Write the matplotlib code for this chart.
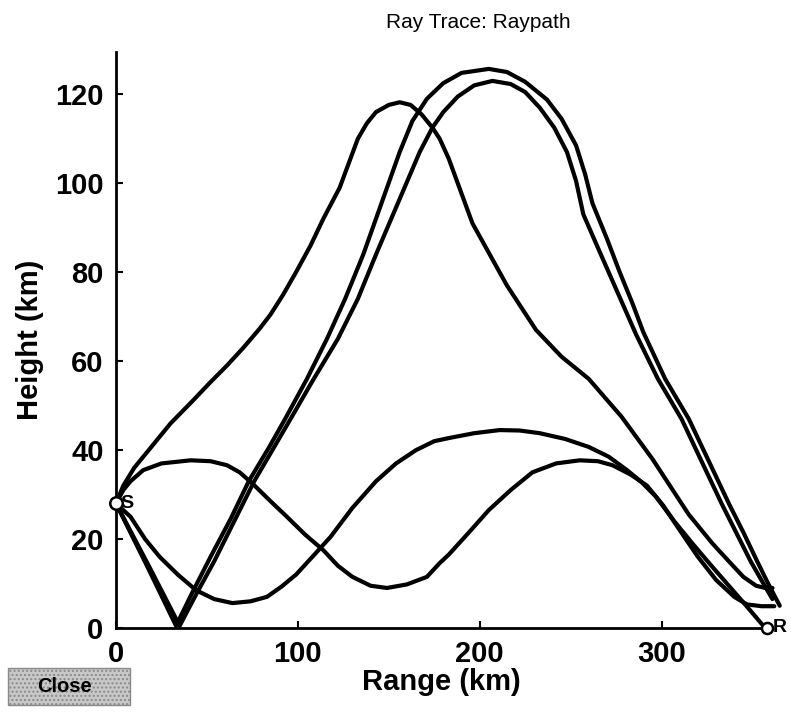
import matplotlib
matplotlib.use("Agg")
import matplotlib.pyplot as plt
from matplotlib.patches import Rectangle

plt.rcParams['font.family'] = ['Liberation Sans', 'DejaVu Sans']

# ---- data (range km, height km) ----
ray_a_x = [0, 4, 10, 20, 30, 42, 52, 61, 70, 79, 85, 92, 99, 107, 114, 123, 133, 138, 143, 150, 156,
           162, 168, 174, 178, 183, 196, 215, 231, 245, 260, 278, 295, 315, 328, 337, 345, 352, 357, 361]
ray_a_y = [28, 32, 36, 41, 46, 51, 55.3, 59, 63, 67.3, 70.5, 75, 80, 86, 92, 99, 110, 113.5, 116, 117.6, 118.2,
           117.6, 115.5, 112.5, 110, 105.5, 91, 77, 67, 61, 56, 47.5, 38, 25.5, 19, 15, 11.5, 9.5, 9, 9]

ray_b_x = [0, 17, 33, 42, 52, 63, 73, 84, 93, 105, 116, 126, 136, 146, 156, 163, 171, 180, 190, 205,
           215, 225, 237, 245, 253, 258, 262, 270, 277, 284, 290, 302, 315, 326, 337, 345, 352, 358, 365]
ray_b_y = [28, 14, 0.5, 8, 16, 24.5, 33, 40.5, 47, 56, 65, 74, 84, 95.5, 107, 114, 119, 122.5, 124.8, 125.7,
           125, 122.8, 118.8, 114.5, 108.5, 102, 95.5, 87.5, 80, 73, 66.5, 56, 47, 37.5, 28, 21.5, 15.5, 10.5, 5]

ray_c_x = [0, 18, 35, 44, 54, 65, 76, 86, 96, 108, 122, 133, 143, 155, 167, 174, 180, 188, 197, 207,
           217, 225, 233, 241, 248, 253, 257, 265, 272, 279, 286, 298, 311, 322, 333, 341, 349, 356, 361]
ray_c_y = [28, 14, 0.5, 7.5, 15, 24, 33, 40, 47, 55.5, 65, 74, 84, 95.5, 107, 112.5, 116, 119.5, 122, 123,
           122.3, 120.5, 117, 112.5, 107, 100.5, 93, 85.5, 79, 72.5, 66, 56, 47, 37.5, 28, 21.5, 15, 10, 6.5]

ray_d_x = [0, 4, 8, 15, 25, 41, 52, 61, 68, 75, 85, 94, 104, 114, 122, 130, 140, 149, 160, 171, 178,
           183, 193, 205, 217, 229, 242, 255, 265, 273, 283, 292, 301, 310, 320, 330, 340, 347, 355, 362]
ray_d_y = [28, 31, 33, 35.5, 37, 37.7, 37.5, 36.6, 35, 32.5, 28.5, 25, 21, 17.5, 14, 11.5, 9.5, 9, 9.8, 11.5, 14.6,
           16.5, 21, 26.5, 31, 35, 37, 37.7, 37.5, 36.6, 34.5, 32, 27.5, 22, 16, 10.8, 7, 5.3, 4.9, 4.9]

ray_e_x = [0, 4, 8, 16, 24, 34, 44, 54, 64, 74, 83, 91, 99, 108, 118, 130, 143, 154, 165, 175, 183,
           197, 211, 222, 233, 247, 260, 271, 281, 289, 297, 307, 317, 327, 337, 347, 357]
ray_e_y = [28, 26.5, 25, 20, 16, 12, 8.5, 6.5, 5.6, 6, 7, 9.3, 12, 16, 20.5, 27, 33, 37, 40, 42, 42.7,
           43.8, 44.5, 44.4, 43.8, 42.5, 40.7, 38.5, 35.5, 32.8, 29.5, 24, 19, 14.2, 9.5, 4.8, 0]

rays = [(ray_a_x, ray_a_y), (ray_b_x, ray_b_y), (ray_c_x, ray_c_y), (ray_d_x, ray_d_y), (ray_e_x, ray_e_y)]

source = (0, 28)
receiver = (358, 0)

x_ticks = [0, 100, 200, 300]
y_ticks = [0, 20, 40, 60, 80, 100, 120]

# ---- figure ----
fig = plt.figure(figsize=(7.91, 7.13), dpi=100)
ax = fig.add_axes([116/791, 1 - 628/713, (767 - 116)/791, (628 - 52)/713])

for xs, ys in rays:
    ax.plot(xs, ys, color='black', lw=3.0, solid_capstyle='round', solid_joinstyle='round', clip_on=False)

ax.plot([source[0]], [source[1]], marker='o', ms=9, mfc='white', mec='black', mew=1.8, clip_on=False, zorder=5)
ax.plot([receiver[0]], [receiver[1]], marker='o', ms=8, mfc='white', mec='black', mew=1.8, clip_on=False, zorder=5)
ax.text(source[0] + 2.5, source[1], 'S', fontsize=14, fontweight='bold', va='center', ha='left')
ax.text(receiver[0] + 3, receiver[1], 'R', fontsize=14, fontweight='bold', va='center', ha='left', clip_on=False)

ax.set_xlim(0, 358)
ax.set_ylim(0, 129.5)
ax.set_xticks(x_ticks)
ax.set_yticks(y_ticks)
ax.tick_params(direction='in', length=5, width=1.5, labelsize=21)
ax.tick_params(axis='x', pad=9)
ax.tick_params(axis='y', pad=9)
for lab in ax.get_xticklabels() + ax.get_yticklabels():
    lab.set_fontweight('bold')

for s in ['top', 'right']:
    ax.spines[s].set_visible(False)
for s in ['left', 'bottom']:
    ax.spines[s].set_linewidth(2.0)

ax.set_xlabel('Range (km)', fontsize=21, fontweight='bold', labelpad=0)
ax.set_ylabel('Height (km)', fontsize=21, fontweight='bold', labelpad=8)
fig.text(478/791, 1 - 22/713, 'Ray Trace: Raypath', fontsize=15,
         family=['Liberation Sans Narrow', 'Liberation Sans', 'DejaVu Sans'],
         ha='center', va='center')

# Close button
btn = Rectangle((8/791, 1 - 705/713), 122/791, 37/713, transform=fig.transFigure,
                facecolor='#c8c8c8', edgecolor='#8a8a8a', lw=1.0, hatch='....')
fig.patches.append(btn)
fig.text(65/791, 1 - 687/713, 'Close', fontsize=14.5, fontweight='bold', ha='center', va='center')

fig.savefig('out.png', dpi=100)
